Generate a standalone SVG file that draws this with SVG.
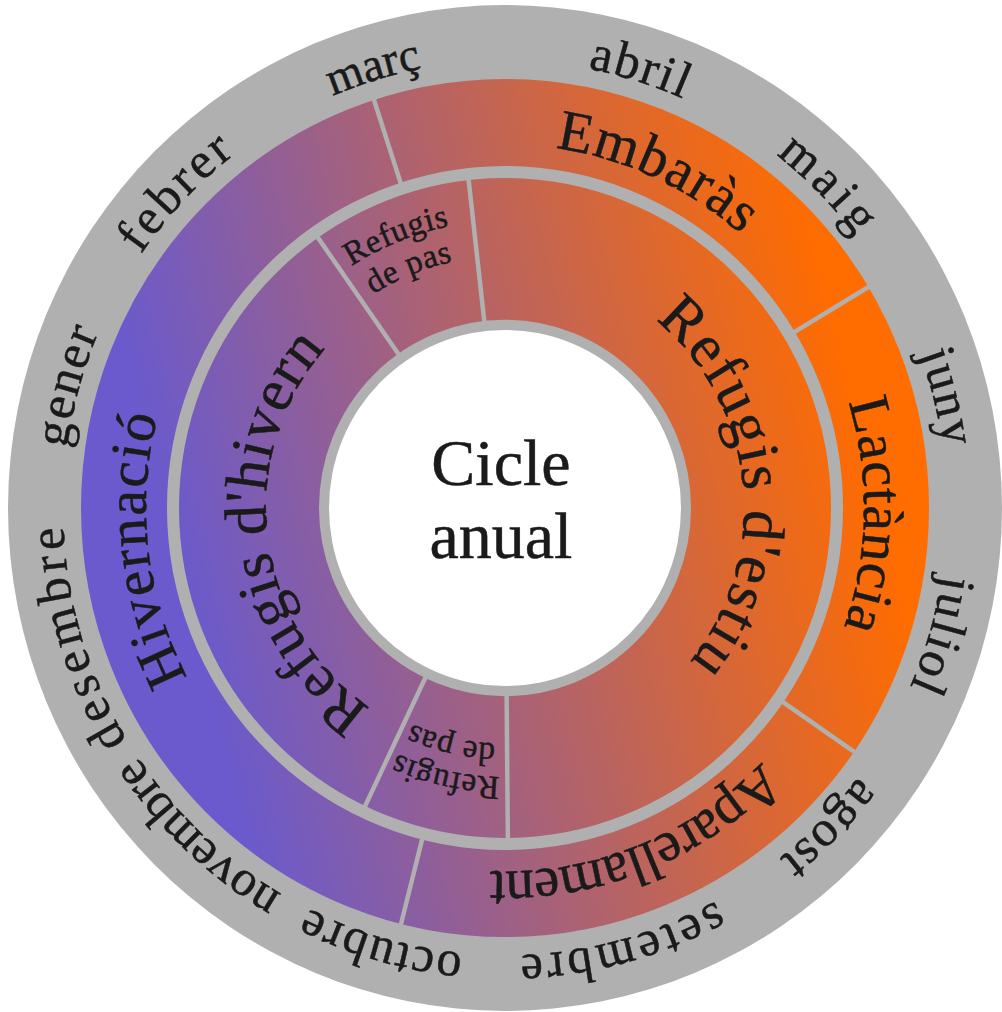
<svg xmlns="http://www.w3.org/2000/svg" width="1002" height="1012" viewBox="0 0 1002 1012">
<defs>
  <linearGradient id="g" gradientUnits="userSpaceOnUse" x1="-325" y1="76" x2="355" y2="-92">
    <stop offset="0" stop-color="#6a5acd"/>
    <stop offset="1" stop-color="#ff6c00"/>
  </linearGradient>
  <path id="p442" d="M0,442 A442,442 0 1 1 0,-442 A442,442 0 1 1 0,442"/>
  <path id="p359" d="M0,359 A359,359 0 1 1 0,-359 A359,359 0 1 1 0,359"/>
  <path id="p239" d="M0,239 A239,239 0 1 1 0,-239 A239,239 0 1 1 0,239"/>
  <path id="p284" d="M0,284 A284,284 0 1 1 0,-284 A284,284 0 1 1 0,284"/>
  <path id="p249" d="M0,249 A249,249 0 1 1 0,-249 A249,249 0 1 1 0,249"/>
  <path id="p266" d="M0,266 A266,266 0 1 1 0,-266 A266,266 0 1 1 0,266"/>
  <path id="p233" d="M0,233 A233,233 0 1 1 0,-233 A233,233 0 1 1 0,233"/>
</defs>
<style>
  text { font-family: "Liberation Serif", "Times New Roman", serif; fill: #1a1a1a; stroke: #1a1a1a; stroke-width: 0.5px; text-anchor: middle; }
  .month { font-size: 50px; letter-spacing: 2px; }
  .phase { font-size: 57px; letter-spacing: 1.3px; }
  .refuge { font-size: 60px; letter-spacing: 1.5px; }
  .pas { font-size: 33px; letter-spacing: 0.6px; }
  .center { font-size: 66px; }
  .band { fill: none; stroke: url(#g); }
  .div { stroke: #b0b0b0; stroke-width: 4.5; }
</style>
<rect width="1002" height="1012" fill="#ffffff"/>
<g transform="translate(505,508) scale(1,1.012)">
  <circle id="disc" r="497" fill="#b0b0b0"/>
  <circle id="outer-band" class="band" r="381" stroke-width="86"/>
  <circle id="inner-band" class="band" r="256" stroke-width="140"/>
  <circle id="center-circle" r="176" fill="#ffffff"/>

  <g id="connectors">
    <line class="div" x1="0" y1="-336" x2="0" y2="-426" transform="rotate(342)"/>
    <line class="div" x1="0" y1="-336" x2="0" y2="-426" transform="rotate(59)"/>
    <line class="div" x1="0" y1="-336" x2="0" y2="-426" transform="rotate(124.6)"/>
    <line class="div" x1="0" y1="-336" x2="0" y2="-426" transform="rotate(194.2)"/>
    <line class="div" x1="0" y1="-184" x2="0" y2="-328" transform="rotate(325)"/>
    <line class="div" x1="0" y1="-184" x2="0" y2="-328" transform="rotate(353.6)"/>
    <line class="div" x1="0" y1="-184" x2="0" y2="-328" transform="rotate(179.5)"/>
    <line class="div" x1="0" y1="-184" x2="0" y2="-328" transform="rotate(205.4)"/>
  </g>

  <g id="months">
    <text class="month" transform="rotate(343.1)" style="font-size:47px;letter-spacing:0px"><textPath href="#p442" startOffset="50%">març</textPath></text>
    <text class="month" transform="rotate(17.4)"><textPath href="#p442" startOffset="50%">abril</textPath></text>
    <text class="month" transform="rotate(45.5)" style="letter-spacing:4.5px"><textPath href="#p442" startOffset="50%">maig</textPath></text>
    <text class="month" transform="rotate(76.1)"><textPath href="#p442" startOffset="50%">juny</textPath></text>
    <text class="month" transform="rotate(106.2)"><textPath href="#p442" startOffset="50%">juliol</textPath></text>
    <text class="month" transform="rotate(134.4)"><textPath href="#p442" startOffset="50%">agost</textPath></text>
    <text class="month" transform="rotate(165)" style="letter-spacing:3.5px"><textPath href="#p442" startOffset="50%">setembre</textPath></text>
    <text class="month" transform="rotate(196.1)"><textPath href="#p442" startOffset="50%">octubre</textPath></text>
    <text class="month" transform="rotate(223.3)" style="letter-spacing:0px"><textPath href="#p442" startOffset="50%">novembre</textPath></text>
    <text class="month" transform="rotate(253.4)" style="letter-spacing:4.5px"><textPath href="#p442" startOffset="50%">desembre</textPath></text>
    <text class="month" transform="rotate(285.5)"><textPath href="#p442" startOffset="50%">gener</textPath></text>
    <text class="month" transform="rotate(313.6)" style="letter-spacing:3.5px"><textPath href="#p442" startOffset="50%">febrer</textPath></text>
  </g>

  <g id="embaras"><text class="phase" transform="rotate(24.7)"><textPath href="#p359" startOffset="50%">Embaràs</textPath></text></g>
  <g id="lactancia"><text class="phase" transform="rotate(91.1)" style="letter-spacing:0.6px"><textPath href="#p359" startOffset="50%">Lactància</textPath></text></g>
  <g id="aparellament"><text class="phase" transform="rotate(158.3)" style="letter-spacing:-0.8px"><textPath href="#p359" startOffset="50%">Aparellament</textPath></text></g>
  <g id="hivernacio"><text class="phase" transform="rotate(263.5)" style="letter-spacing:1.4px"><textPath href="#p359" startOffset="50%">Hivernació</textPath></text></g>

  <g id="refugis-estiu"><text class="refuge" transform="rotate(84.4)"><textPath href="#p239" startOffset="50%">Refugis d'estiu</textPath></text></g>
  <g id="refugis-hivern"><text class="refuge" transform="rotate(262.8)" style="letter-spacing:0.6px"><textPath href="#p239" startOffset="50%">Refugis d'hivern</textPath></text></g>

  <g id="refugis-pas-1">
    <text class="pas" transform="rotate(338)"><textPath href="#p284" startOffset="50%">Refugis</textPath></text>
    <text class="pas" transform="rotate(338)"><textPath href="#p249" startOffset="50%">de pas</textPath></text>
  </g>
  <g id="refugis-pas-2">
    <text class="pas" transform="rotate(192.6)"><textPath href="#p266" startOffset="50%">Refugis</textPath></text>
    <text class="pas" transform="rotate(193)"><textPath href="#p233" startOffset="50%">de pas</textPath></text>
  </g>
</g>
<g id="cicle-anual">
  <text class="center" x="501" y="485">Cicle</text>
  <text class="center" x="501" y="558">anual</text>
</g>
</svg>
